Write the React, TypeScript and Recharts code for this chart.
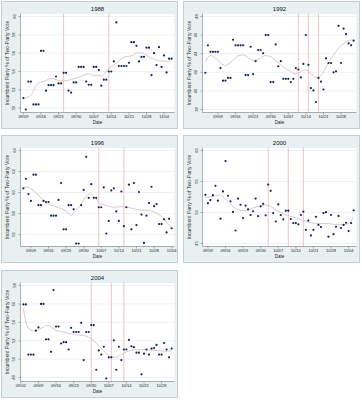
import React from 'react';
import { ComposedChart, Scatter, Line, XAxis, YAxis, CartesianGrid, ReferenceLine } from 'recharts';

// ---------- data ----------
// 1988
const start1988 = '09/09';
const votes1988 = [51.1, 49.85, 52.9, 52.9, 50.4, 50.4, 50.4, 56.25, 56.25, 51.9, 52.5, 52.5, 52.5, 53.45, 52.7, 52.7, 53.85, 53.85, 51.9, 51.7, 52.8, 52.8, 54.5, 54.5, 54.5, 52.9, 52.55, 52.55, 54.5, 54.5, 54.15, 52.45, 53.1, 53.1, 54.0, 54.0, 55.1, 59.35, 54.6, 54.6, 54.6, 54.6, 54.95, 57.2, 57.2, 56.8, 55.1, 55.6, 55.6, 56.6, 56.6, 53.6, 56.0, 54.7, 56.65, 54.5, 55.75, 53.9, 55.4, 55.4];
const smoothDays1988 = [9, 11.8, 14.4, 17.7, 20.3, 23.6, 25.6, 28.2, 33.5, 34.8, 37.5, 40.1, 42.7, 45.4, 49.3, 52, 54.6, 57.2, 59.9, 63.8, 66.4, 68];
const smooth1988 = [51.1, 51.35, 52.6, 52.98, 53.24, 52.98, 52.98, 53.13, 53.64, 53.78, 53.53, 53.53, 54.25, 54.8, 55.6, 55.7, 56.07, 55.9, 55.45, 55.16, 55.1, 55.35];
const debates1988 = ['09/25', '10/13'];
const xTicks1988 = ['09/09', '09/16', '09/23', '09/30', '10/07', '10/14', '10/21', '10/28', '11/04'];
const yTicks1988 = [50, 52, 54, 56, 58, 60];

// 1992
const start1992 = '09/04';
const votes1992 = [41.95, 44.9, 44.2, 44.2, 44.2, 44.2, 42.45, 41.1, 41.1, 41.4, 41.4, 45.5, 44.9, 44.9, 44.9, 44.9, 41.7, 41.7, 44.75, 41.8, 43.2, 44.4, 44.4, 44.05, 46.0, 46.0, 40.95, 40.95, 45.0, 42.65, 43.2, 41.3, 41.3, 41.3, 40.95, 41.3, 42.45, 42.3, 41.45, 42.9, 46.0, 42.8, 40.3, 40.05, 38.8, 41.4, 41.0, 40.15, 43.5, 43.0, 43.0, 42.0, 42.1, 47.0, 43.0, 46.7, 46.1, 45.1, 44.9, 45.4];
const smoothDays1992 = [4, 6, 7.3, 10, 12, 14.6, 17.3, 19.3, 21.2, 23.2, 25.2, 27.9, 29.9, 32.5, 35.2, 37.8, 39.8, 41.8, 43.8, 46.4, 48.4, 50.4, 52.4, 54.4, 57, 59.7, 61.7, 63];
const smooth1992 = [43.2, 43.8, 43.7, 42.98, 42.73, 43.2, 43.8, 43.87, 43.55, 43.27, 43.44, 43.8, 43.7, 43.1, 42.55, 42.1, 41.84, 42.02, 42.27, 41.77, 41.42, 41.77, 42.73, 43.6, 44.6, 45.2, 45.47, 45.47];
const debates1992 = ['10/11', '10/15', '10/19'];
const xTicks1992 = ['09/09', '09/16', '09/23', '09/30', '10/07', '10/14', '10/21', '10/28'];
const yTicks1992 = [38, 40, 42, 44, 46, 48];

// 1996
const start1996 = '09/06';
const votes1996 = [60.4, 61.3, 59.85, 59.2, 61.7, 61.7, 58.8, 58.8, 59.2, 59.1, 59.1, 57.8, 57.8, 57.8, 59.3, 60.9, 56.5, 56.5, 58.8, 58.8, 58.4, 55.15, 55.15, 58.8, 60.25, 63.4, 59.5, 60.8, 59.5, 59.5, 58.6, 58.6, 60.5, 56.1, 57.3, 60.2, 60.4, 58.2, 57.3, 60.1, 56.8, 58.6, 60.75, 56.5, 60.9, 56.9, 60.05, 57.9, 55.2, 57.8, 59.0, 60.55, 58.7, 58.9, 57.0, 57.0, 57.45, 56.2, 57.5, 56.6];
const smoothDays1996 = [6, 7.85, 9.8, 12.5, 15.1, 18.4, 21.7, 23.7, 25, 26.4, 29, 31, 32.7, 34.3, 36.3, 38.9, 42.2, 44.9, 47.5, 50.2, 52.8, 55.5, 58.1, 60.8, 63.4, 65];
const smooth1996 = [60.5, 60.5, 60.24, 59.6, 59.03, 58.7, 58.4, 58.08, 57.8, 58.17, 58.9, 59.67, 59.86, 59.6, 58.97, 58.78, 58.6, 58.65, 58.6, 58.43, 58.33, 58.3, 58.14, 57.76, 57.06, 56.68];
const debates1996 = ['10/06', '10/16'];
const xTicks1996 = ['09/09', '09/16', '09/23', '09/30', '10/07', '10/14', '10/21', '10/28', '11/04'];
const yTicks1996 = [56, 58, 60, 62, 64];

// 2000
const start2000 = '09/08';
const votes2000 = [52.85, 51.5, 52.0, 52.8, 54.3, 51.9, 49.0, 53.4, 58.3, 52.7, 51.8, 50.1, 47.1, 52.25, 51.25, 49.1, 51.1, 50.5, 49.6, 50.2, 52.25, 49.4, 51.0, 51.4, 49.55, 54.5, 53.5, 49.9, 48.55, 51.3, 49.6, 48.9, 50.3, 50.3, 48.95, 48.3, 48.3, 48.1, 49.6, 50.15, 47.2, 48.7, 46.3, 47.2, 49.3, 48.0, 47.65, 49.9, 50.05, 46.1, 49.6, 46.5, 47.7, 49.45, 47.5, 48.0, 48.35, 47.0, 48.3, 50.35];
const smoothDays2000 = [8, 10, 12, 13.6, 15.3, 17.3, 19.3, 21.3, 23.3, 25.2, 27.2, 29.2, 31.9, 33.9, 36.5, 39.2, 41.8, 44.5, 47.1, 49.8, 53.1, 55.7, 58.4, 61, 63.7, 65.7, 67];
const smooth2000 = [52.42, 52.53, 52.69, 52.8, 52.42, 51.63, 50.83, 50.41, 50.3, 50.46, 50.78, 50.99, 51.2, 50.99, 50.3, 49.77, 49.4, 49.08, 48.71, 48.34, 48.24, 48.24, 48.13, 48.02, 48.08, 48.45, 49.35];
const debates2000 = ['10/03', '10/11', '10/17'];
const xTicks2000 = ['09/09', '09/16', '09/23', '09/30', '10/07', '10/14', '10/21', '10/28', '11/04'];
const yTicks2000 = [45, 50, 55, 60];

// 2004
const start2004 = '09/03';
const votes2004 = [55.95, 55.95, 50.5, 50.5, 50.5, 53.1, 53.45, 56.0, 56.0, 52.15, 52.15, 50.8, 57.5, 53.55, 53.55, 51.7, 51.85, 51.85, 51.05, 53.4, 52.95, 52.95, 52.95, 53.95, 49.9, 52.95, 52.95, 53.7, 53.7, 48.85, 50.95, 50.5, 51.35, 47.9, 50.2, 50.2, 52.05, 48.85, 51.35, 49.9, 51.05, 51.05, 52.1, 51.4, 51.3, 50.7, 50.7, 48.35, 50.6, 51.05, 50.5, 51.15, 51.2, 51.55, 50.5, 50.5, 51.75, 51.05, 50.2, 51.15];
const smoothDays2004 = [3, 3.7, 4.5, 5.7, 7.4, 9.4, 11.4, 12.8, 14.1, 16.1, 18.8, 21.5, 24.2, 26.9, 28.9, 30.9, 33.6, 36.2, 38.3, 39.6, 41.6, 44.3, 47, 49.6, 52.3, 55, 57.7, 60.4, 62];
const smooth2004 = [55.51, 54.41, 53.6, 53.2, 53.05, 53.24, 53.57, 53.68, 53.49, 53.13, 52.95, 52.76, 52.65, 52.58, 52.4, 52.03, 51.3, 50.56, 50.2, 50.2, 50.45, 50.82, 51.0, 51.04, 51.0, 50.97, 50.89, 50.86, 50.89];
const debates2004 = ['09/30', '10/08', '10/13'];
const xTicks2004 = ['09/02', '09/09', '09/16', '09/23', '09/30', '10/07', '10/14', '10/21', '10/28'];
const yTicks2004 = [48, 50, 52, 54, 56, 58];

// ---------- helpers ----------
const FONT = '"Liberation Sans", Arial, Helvetica, sans-serif';
const W = 177;
const H = 128;
const M_TOP = 12.5;
const M_RIGHT = 3.5;
const Y_W = 19.5;
const X_H = 16.5;
const BG = '#e8f0f2';

function dayOf(s: string): number {
  const [m, d] = s.split('/').map(Number);
  return m === 9 ? d : m === 10 ? 30 + d : 61 + d;
}
function labelOf(day: number): string {
  const p = (n: number) => String(n).padStart(2, '0');
  if (day <= 30) return `09/${p(day)}`;
  if (day <= 61) return `10/${p(day - 30)}`;
  return `11/${p(day - 61)}`;
}
function padDomain(lo: number, hi: number, frac: number): [number, number] {
  const p = (hi - lo) * frac;
  return [lo - p, hi + p];
}

const RotTick = (props: any) => {
  const { x, y, payload } = props;
  const tx = x - 2;
  return (
    <text x={tx} y={y} transform={`rotate(-90 ${tx} ${y})`} textAnchor="middle" fontSize={4} fill="#222" fontFamily={FONT}>
      {payload.value}
    </text>
  );
};

const Dot = (props: any) => {
  const { cx, cy } = props;
  if (cx == null || cy == null) return null;
  return <circle cx={cx} cy={cy} r={1.1} fill="#17245a" />;
};

type PanelProps = {
  left: number;
  top: number;
  title: string;
  start: string;
  votes: number[];
  smoothX: number[];
  smoothY: number[];
  debates: string[];
  xTicks: string[];
  yTicks: number[];
};

function Panel({ left, top, title, start, votes, smoothX, smoothY, debates, xTicks, yTicks }: PanelProps) {
  const s0 = dayOf(start);
  const points = votes.map((v, i) => ({ x: s0 + i, y: v }));
  const smooth = smoothX.map((x, i) => ({ x, y: smoothY[i] }));
  const lastDay = s0 + votes.length - 1;
  const xDomain: [number, number] = [s0 - 1.15, lastDay + 1.15];
  const lo = Math.min(...votes, ...yTicks);
  const hi = Math.max(...votes, ...yTicks);
  const yDomain = padDomain(lo, hi, 3 / 93);
  const plotW = W - Y_W - M_RIGHT;
  return (
    <div style={{ position: 'absolute', left, top, width: W, height: H, background: BG, outline: '1px solid #c3cfd5', outlineOffset: -1 }}>
      <div style={{ position: 'absolute', left: Y_W, width: plotW, top: 5.2, textAlign: 'center', fontSize: 6, lineHeight: '6px', fontFamily: FONT, color: '#111' }}>
        {title}
      </div>
      <div style={{ position: 'absolute', left: 0, top: 0 }}>
        <ComposedChart width={W} height={H} margin={{ top: M_TOP, right: M_RIGHT, left: 0, bottom: 0 }}>
          <CartesianGrid vertical={false} fill="#ffffff" stroke="#e1e9ed" strokeWidth={0.6} />
          <XAxis
            type="number"
            dataKey="x"
            domain={xDomain}
            ticks={xTicks.map(dayOf)}
            tickFormatter={labelOf}
            allowDataOverflow
            interval={0}
            height={X_H}
            tick={{ fontSize: 4, fill: '#222', fontFamily: FONT }}
            tickSize={2}
            tickMargin={1}
            stroke="#6a6a6a"
            axisLine={{ strokeWidth: 0.5 }}
            tickLine={{ strokeWidth: 0.5 }}
            label={(p: any) => {
              const vb = p.viewBox || {};
              return (
                <text x={vb.x + vb.width / 2} y={vb.y + 10.2} textAnchor="middle" dominantBaseline="central" fontSize={4.5} fill="#222" fontFamily={FONT}>
                  Date
                </text>
              );
            }}
          />
          <YAxis
            type="number"
            dataKey="y"
            domain={yDomain}
            ticks={yTicks}
            allowDataOverflow
            interval={0}
            width={Y_W}
            tick={<RotTick />}
            tickSize={2}
            tickMargin={1}
            stroke="#6a6a6a"
            axisLine={{ strokeWidth: 0.5 }}
            tickLine={{ strokeWidth: 0.5 }}
            label={(p: any) => {
              const vb = p.viewBox || {};
              const cy = vb.y + vb.height / 2;
              return (
                <text transform={`translate(6.3 ${cy}) rotate(-90)`} textAnchor="middle" dominantBaseline="central" fontSize={5.1} fill="#333" fontFamily={FONT}>
                  Incumbent Party % of Two-Party Vote
                </text>
              );
            }}
          />
          {debates.map((d) => (
            <ReferenceLine key={d} x={dayOf(d)} stroke="#e9abab" strokeWidth={0.7} />
          ))}
          <Line data={smooth} dataKey="y" type="monotone" stroke="#d2b5bc" strokeWidth={0.75} dot={false} isAnimationActive={false} />
          <Scatter data={points} dataKey="y" shape={<Dot />} isAnimationActive={false} />
        </ComposedChart>
      </div>
    </div>
  );
}

export default function App() {
  return (
    <div style={{ position: 'fixed', left: 0, top: 0, width: 362, height: 400, background: '#ffffff', overflow: 'hidden' }}>
      <Panel left={1} top={1} title="1988" start={start1988} votes={votes1988} smoothX={smoothDays1988} smoothY={smooth1988} debates={debates1988} xTicks={xTicks1988} yTicks={yTicks1988} />
      <Panel left={183} top={1} title="1992" start={start1992} votes={votes1992} smoothX={smoothDays1992} smoothY={smooth1992} debates={debates1992} xTicks={xTicks1992} yTicks={yTicks1992} />
      <Panel left={1} top={135} title="1996" start={start1996} votes={votes1996} smoothX={smoothDays1996} smoothY={smooth1996} debates={debates1996} xTicks={xTicks1996} yTicks={yTicks1996} />
      <Panel left={183} top={135} title="2000" start={start2000} votes={votes2000} smoothX={smoothDays2000} smoothY={smooth2000} debates={debates2000} xTicks={xTicks2000} yTicks={yTicks2000} />
      <Panel left={1} top={270} title="2004" start={start2004} votes={votes2004} smoothX={smoothDays2004} smoothY={smooth2004} debates={debates2004} xTicks={xTicks2004} yTicks={yTicks2004} />
    </div>
  );
}
